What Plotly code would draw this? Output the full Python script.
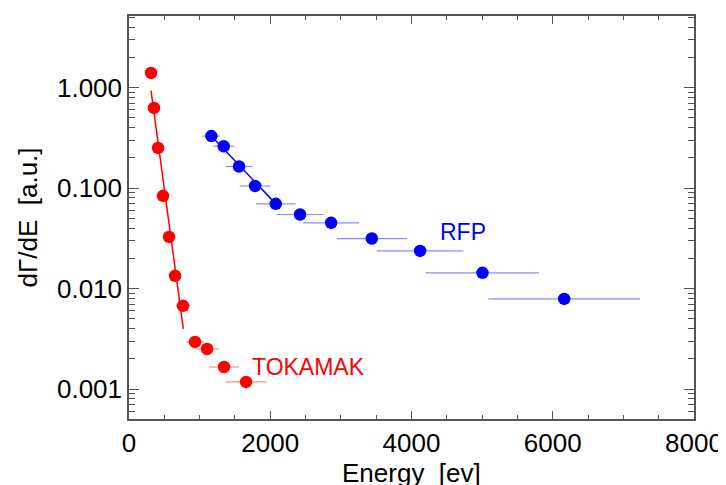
import math
import plotly.graph_objects as go

# TOKAMAK data
tok_E = [312, 354, 411, 482, 567, 652, 765, 935, 1105, 1346, 1657]
tok_y = [1.40, 0.627, 0.251, 0.0837, 0.0327, 0.0134, 0.00674, 0.00295, 0.00251, 0.00166, 0.00118]
tok_dE = [30, 35, 40, 50, 60, 70, 100, 127, 170, 212, 290]
tok_fit_E = [312, 769]
tok_fit_y = [0.933, 0.00398]

# RFP data
rfp_E = [1166, 1341, 1558, 1785, 2078, 2422, 2862, 3438, 4122, 5005, 6162]
rfp_y = [0.329, 0.261, 0.164, 0.105, 0.0697, 0.0546, 0.0451, 0.0315, 0.0237, 0.01435, 0.0079]
rfp_dE = [123, 149, 189, 217, 281, 330, 397, 494, 613, 803, 1074]
rfp_fit_E = [1166, 2078]
rfp_fit_y = [0.33, 0.0697]

y_tickvals = [1.0, 0.1, 0.01, 0.001]
y_ticktext = ["1.000", "0.100", "0.010", "0.001"]
x_tickvals = [0, 2000, 4000, 6000, 8000]

FONT = "Liberation Sans, Arial, sans-serif"

fig = go.Figure()

fig.add_trace(go.Scatter(x=tok_fit_E, y=tok_fit_y, mode="lines",
                         line=dict(color="red", width=1.5), showlegend=False))
fig.add_trace(go.Scatter(x=tok_E, y=tok_y, mode="markers",
                         marker=dict(color="red", size=12.5),
                         error_x=dict(type="data", array=tok_dE, color="rgba(255,0,0,0.45)",
                                      thickness=1.2, width=0),
                         showlegend=False))
fig.add_trace(go.Scatter(x=rfp_fit_E, y=rfp_fit_y, mode="lines",
                         line=dict(color="blue", width=1.5), showlegend=False))
fig.add_trace(go.Scatter(x=rfp_E, y=rfp_y, mode="markers",
                         marker=dict(color="blue", size=12.5),
                         error_x=dict(type="data", array=rfp_dE, color="rgba(0,0,255,0.45)",
                                      thickness=1.2, width=0),
                         showlegend=False))

fig.add_annotation(x=1714, y=math.log10(0.00167), text="TOKAMAK", showarrow=False,
                   xanchor="left", yanchor="middle",
                   font=dict(color="red", size=23, family=FONT))
fig.add_annotation(x=4377, y=math.log10(0.0367), text="RFP", showarrow=False,
                   xanchor="left", yanchor="middle",
                   font=dict(color="blue", size=23, family=FONT))
# x-axis title (placed as annotation so it can sit just below the tick labels, as in the original)
fig.add_annotation(x=0.5, y=0, xref="paper", yref="paper", text="Energy  [ev]",
                   showarrow=False, xanchor="center", yanchor="top", yshift=-37,
                   font=dict(color="black", size=26, family=FONT))

minor_y = []
for dec in [0.0001, 0.001, 0.01, 0.1, 1.0]:
    for m in range(2, 10):
        minor_y.append(dec * m)

fig.update_layout(
    width=718, height=477,
    margin=dict(l=121, r=32, t=8, b=66),
    paper_bgcolor="white", plot_bgcolor="white",
    font=dict(family=FONT, size=26, color="black"),
    xaxis=dict(range=[0, 8000], tickvals=x_tickvals, ticks="inside", ticklen=8,
               tickwidth=1.2, tickcolor="#555", showline=True, linecolor="#555", linewidth=1.5,
               mirror="ticks", showgrid=False, zeroline=False, automargin=False,
               minor=dict(dtick=500, ticks="inside", ticklen=4, tickcolor="#555", showgrid=False),
               tickfont=dict(size=26)),
    yaxis=dict(type="log", range=[-3.297, 0.712], tickvals=y_tickvals, ticktext=y_ticktext,
               ticks="inside", ticklen=10, tickwidth=1.2, tickcolor="#555",
               showline=True, linecolor="#555", linewidth=1.5, mirror="ticks",
               showgrid=False, zeroline=False, automargin=False,
               minor=dict(tickvals=minor_y, ticks="inside", ticklen=6, tickcolor="#555", showgrid=False),
               title=dict(text="dΓ/dE  [a.u.]", standoff=12, font=dict(size=26)),
               tickfont=dict(size=26)),
)

fig.write_html("out.html")
